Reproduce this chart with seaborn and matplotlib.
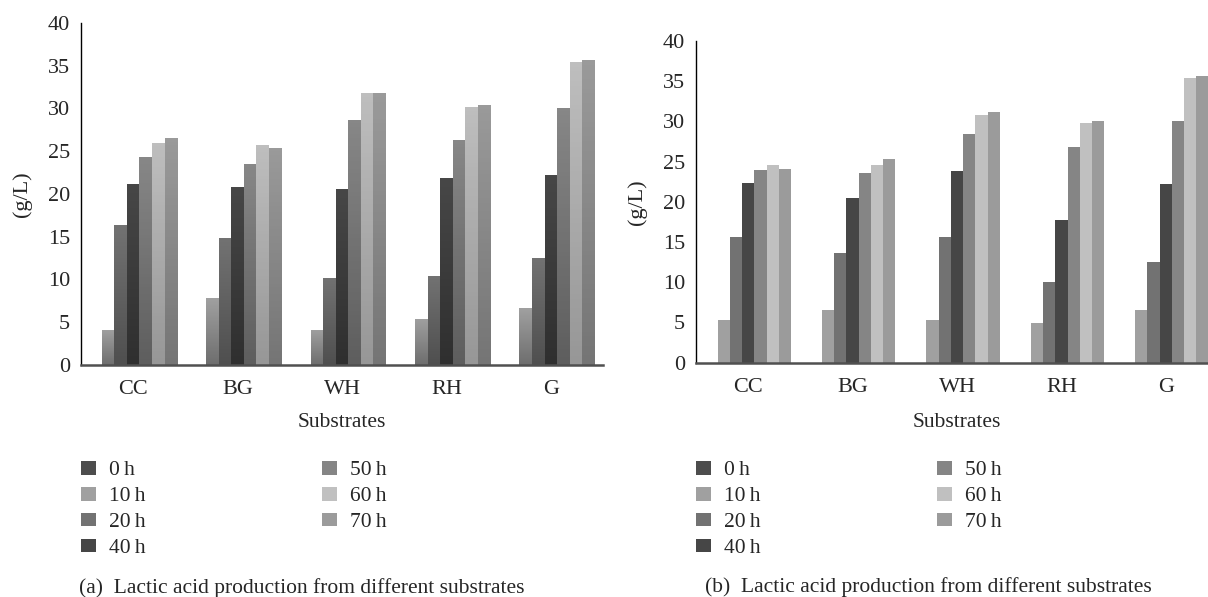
import numpy as np
import pandas as pd
import seaborn as sns
from matplotlib import pyplot as plt
from matplotlib.colors import LinearSegmentedColormap
from matplotlib.patches import Patch

substrates = ["CC", "BG", "WH", "RH", "G"]
times = ["0\u2009h", "10\u2009h", "20\u2009h", "40\u2009h", "50\u2009h", "60\u2009h", "70\u2009h"]

# panel (a), one row per sampling time, in substrate order
prod_a = [
	[0, 0, 0, 0, 0],
	[4.1, 7.8, 4.1, 5.4, 6.6],
	[16.3, 14.8, 10.1, 10.4, 12.5],
	[21.1, 20.8, 20.6, 21.8, 22.2],
	[24.3, 23.5, 28.7, 26.3, 30.1],
	[25.9, 25.7, 31.8, 30.2, 35.4],
	[26.5, 25.4, 31.8, 30.4, 35.7],
]

# panel (b)
prod_b = [
	[0, 0, 0, 0, 0],
	[5.3, 6.6, 5.3, 4.9, 6.5],
	[15.6, 13.6, 15.6, 10.0, 12.5],
	[22.3, 20.5, 23.8, 17.7, 22.2],
	[23.9, 23.6, 28.4, 26.8, 30.1],
	[24.6, 24.6, 30.8, 29.8, 35.4],
	[24.1, 25.3, 31.2, 30.0, 35.6],
]

flat_colors = ["#4d4d4d", "#a0a0a0", "#727272", "#464646", "#858585", "#c0c0c0", "#9b9b9b"]
grad_top = ["#555555", "#a0a0a0", "#727272", "#474747", "#878787", "#bebebe", "#9a9a9a"]
grad_bottom = ["#333333", "#6e6e6e", "#4f4f4f", "#2f2f2f", "#5e5e5e", "#979797", "#757575"]

captions = [
	"(a)  Lactic acid production from different substrates",
	"(b)  Lactic acid production from different substrates",
]

sns.set_style("white")
plt.rcParams["font.family"] = ["Liberation Serif", "DejaVu Serif"]
plt.rcParams["font.size"] = 15.5


def to_frame(values):
	rows = []
	for t, vals in zip(times, values):
		for s, v in zip(substrates, vals):
			rows.append({"substrate": s, "time": t, "value": v})
	return pd.DataFrame(rows)


def shade(ax, tops, bottoms):
	xl, yl = ax.get_xlim(), ax.get_ylim()
	ramp = np.linspace(0, 1, 64).reshape(-1, 1)
	for bars, top, bottom in zip(ax.containers, tops, bottoms):
		cmap = LinearSegmentedColormap.from_list("ramp", [bottom, top])
		for bar in bars:
			h = bar.get_height()
			if h <= 0:
				continue
			x0 = bar.get_x()
			im = ax.imshow(ramp, origin="lower", cmap=cmap, aspect="auto",
				extent=[x0, x0 + bar.get_width(), 0, h], zorder=bar.get_zorder() + 0.1)
			im.set_clip_path(bar)
	ax.set_xlim(xl)
	ax.set_ylim(yl)


def draw_panel(fig, rect, values, width, xlabel_y, gradient):
	ax = fig.add_axes(rect)
	df = to_frame(values)
	sns.barplot(data=df, x="substrate", y="value", hue="time", hue_order=times,
		palette=flat_colors, width=width, gap=0, saturation=1, legend=False,
		edgecolor="none", linewidth=0, ax=ax)
	ax.set_xlim(-0.5, 4.5)
	ax.set_ylim(0, 40)
	ax.set_yticks(range(0, 41, 5))
	if gradient:
		shade(ax, grad_top, grad_bottom)
	for side in ["top", "right"]:
		ax.spines[side].set_visible(False)
	ax.spines["left"].set_color("black")
	ax.spines["left"].set_linewidth(1.0)
	ax.spines["bottom"].set_color("#505050")
	ax.spines["bottom"].set_linewidth(1.8)
	ax.tick_params(axis="y", length=6, width=1, color="black", pad=2, labelsize=16)
	ax.tick_params(axis="x", length=0, pad=11, labelsize=16)
	ax.set_ylabel("(g/L)", fontsize=16)
	ax.yaxis.set_label_coords(-0.094, 0.5)
	ax.set_xlabel("Substrates", fontsize=15.5)
	ax.xaxis.set_label_coords(0.5, xlabel_y)
	return ax


fig = plt.figure(figsize=(12.08, 5.97), dpi=100)
W, H = 1208, 597

draw_panel(fig, [81 / W, 1 - 364.7 / H, 522 / W, 341.7 / H], prod_a, 0.842, -0.141, True)
draw_panel(fig, [696 / W, 1 - 362.7 / H, 522 / W, 321.7 / H], prod_b, 0.82, -0.156, False)

handles = [Patch(facecolor=c, edgecolor="none") for c in flat_colors]
for x0 in [81, 696]:
	fig.legend(handles, times, loc="upper left", bbox_to_anchor=(x0 / W, 1 - 461 / H),
		ncol=2, frameon=False, fontsize=15.5, borderpad=0, borderaxespad=0,
		handlelength=0.7, handleheight=0.6, handletextpad=0.6,
		labelspacing=0.3, columnspacing=8.2)

fig.text(79 / W, 1 - 588 / H, captions[0], ha="left", va="center", fontsize=15.5)
fig.text(705 / W, 1 - 587 / H, captions[1], ha="left", va="center", fontsize=15.5)

fig.savefig("out.png", dpi=100)
